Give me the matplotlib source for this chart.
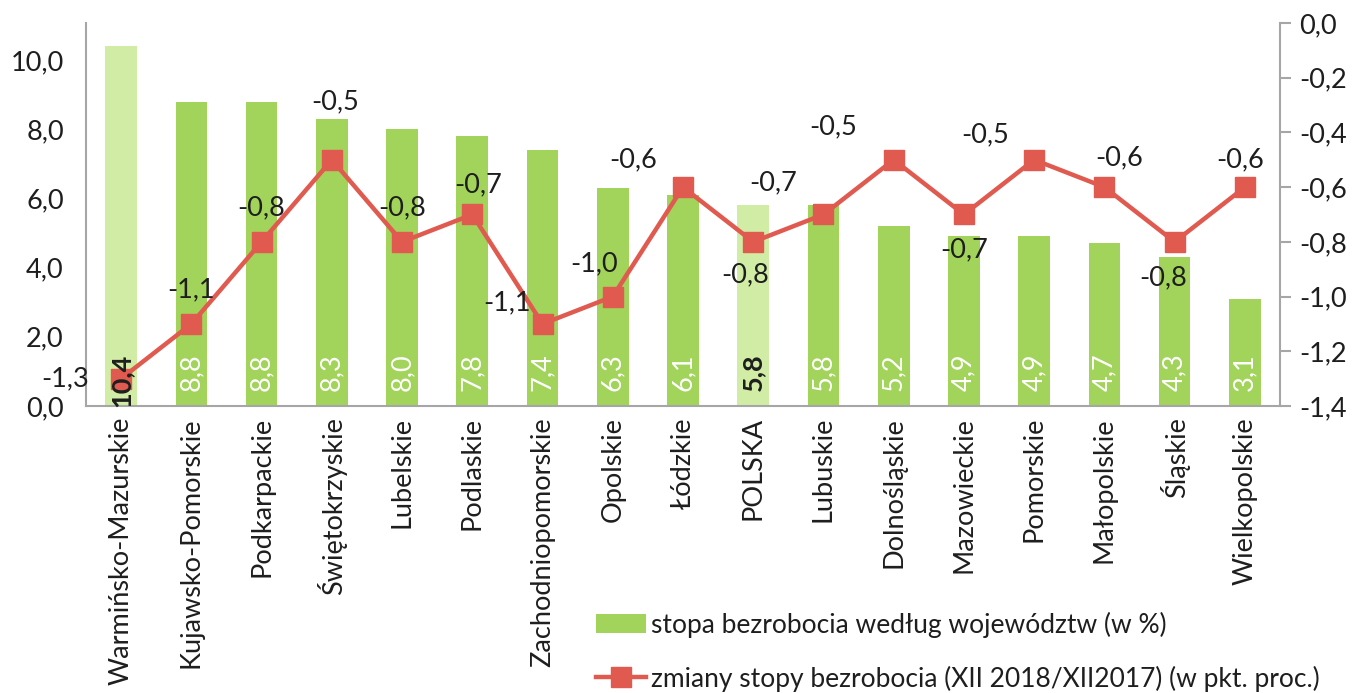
import matplotlib
matplotlib.use("Agg")
import matplotlib.pyplot as plt
from matplotlib.ticker import FuncFormatter
from matplotlib.lines import Line2D
from matplotlib.patches import Patch

plt.rcParams['font.family'] = ['Lato', 'DejaVu Sans']

categories = ["Warmińsko-Mazurskie", "Kujawsko-Pomorskie", "Podkarpackie", "Świętokrzyskie",
              "Lubelskie", "Podlaskie", "Zachodniopomorskie", "Opolskie", "Łódzkie", "POLSKA",
              "Lubuskie", "Dolnośląskie", "Mazowieckie", "Pomorskie", "Małopolskie", "Śląskie",
              "Wielkopolskie"]
rate = [10.4, 8.8, 8.8, 8.3, 8.0, 7.8, 7.4, 6.3, 6.1, 5.8, 5.8, 5.2, 4.9, 4.9, 4.7, 4.3, 3.1]
change = [-1.3, -1.1, -0.8, -0.5, -0.8, -0.7, -1.1, -1.0, -0.6, -0.8, -0.7, -0.5, -0.7, -0.5, -0.6, -0.8, -0.6]
highlight = ["Warmińsko-Mazurskie", "POLSKA"]

legend_bar = "stopa bezrobocia według województw (w %)"
legend_line = "zmiany stopy bezrobocia (XII 2018/XII2017) (w pkt. proc.)"

# label offsets in pixels (style only)
label_offsets = [(-56, 0), (0, 34), (0, 34), (3, 58), (0, 34), (6, 30), (-36, 21), (-19, 33),
                 (-50, 27), (-8, -33), (-50, 32), (-61, 33), (0, -35), (-49, 25), (15, 29),
                 (-12, -36), (-5, 27)]

GREEN = "#A2D35A"
LIGHT = "#D1EDA5"
RED = "#E05A50"
TXT = "#1E1E1E"
SPINE = "#A6A6A6"
FS = 19.5

fig = plt.figure(figsize=(13.55, 6.93), dpi=100)
ax = fig.add_axes([86/1355, 1-406/693, (1280-86)/1355, (406-23)/693])
ax2 = ax.twinx()

x = list(range(len(categories)))
colors = [LIGHT if c in highlight else GREEN for c in categories]
ax.bar(x, rate, width=0.45, color=colors, zorder=2)

ax.set_xlim(-0.5, len(categories) - 0.5)
ax.set_ylim(0, 11.07)
ax.set_yticks([0, 2, 4, 6, 8, 10])
fmt = FuncFormatter(lambda v, p: f"{v:.1f}".replace(".", ","))
ax.yaxis.set_major_formatter(fmt)
ax.set_xticks(x)
ax.set_xticklabels(categories, rotation=90, fontsize=FS, color=TXT)
ax.tick_params(axis='x', length=0, pad=8)
ax.tick_params(axis='y', length=0, labelsize=FS, labelcolor=TXT, pad=16)

ax2.set_ylim(-1.4, 0.0)
ax2.set_yticks([-1.4, -1.2, -1.0, -0.8, -0.6, -0.4, -0.2, 0.0])
ax2.yaxis.set_major_formatter(fmt)
ax2.tick_params(axis='y', length=8, width=1.5, color=SPINE, labelsize=FS, labelcolor=TXT, pad=6)

for a in (ax, ax2):
    a.spines['top'].set_visible(False)
    for s in ('left', 'right', 'bottom'):
        a.spines[s].set_color(SPINE)
        a.spines[s].set_linewidth(1.5)
ax.spines['right'].set_visible(False)
ax2.spines['left'].set_visible(False)
ax2.spines['bottom'].set_visible(False)

ax2.plot(x, change, color=RED, linewidth=3.2, marker='s', markersize=14, zorder=3)

for xi, v, (dx, dy) in zip(x, change, label_offsets):
    ax2.annotate(f"{v:.1f}".replace(".", ","), (xi, v), xytext=(dx, dy), textcoords='offset pixels',
                 ha='center', va='center', fontsize=FS, color=TXT, zorder=5)

for xi, v, c in zip(x, rate, categories):
    hl = c in highlight
    ax2.text(xi, 1.52, f"{v:.1f}".replace(".", ","), transform=ax.transData, rotation=90,
             ha='center', va='top', fontsize=FS, color=TXT if hl else 'white',
             fontweight='bold' if hl else 'normal', zorder=6)

handles = [Patch(facecolor=GREEN, edgecolor='none'),
           Line2D([0], [0], color=RED, linewidth=3.2, marker='s', markersize=14)]
fig.legend(handles, [legend_bar, legend_line], loc='upper left',
           bbox_to_anchor=(572/1355, 1-588/693), frameon=False, fontsize=19,
           handlelength=1.9, handletextpad=0.2, labelspacing=1.05, labelcolor=TXT)

fig.savefig("out.png", dpi=100)
